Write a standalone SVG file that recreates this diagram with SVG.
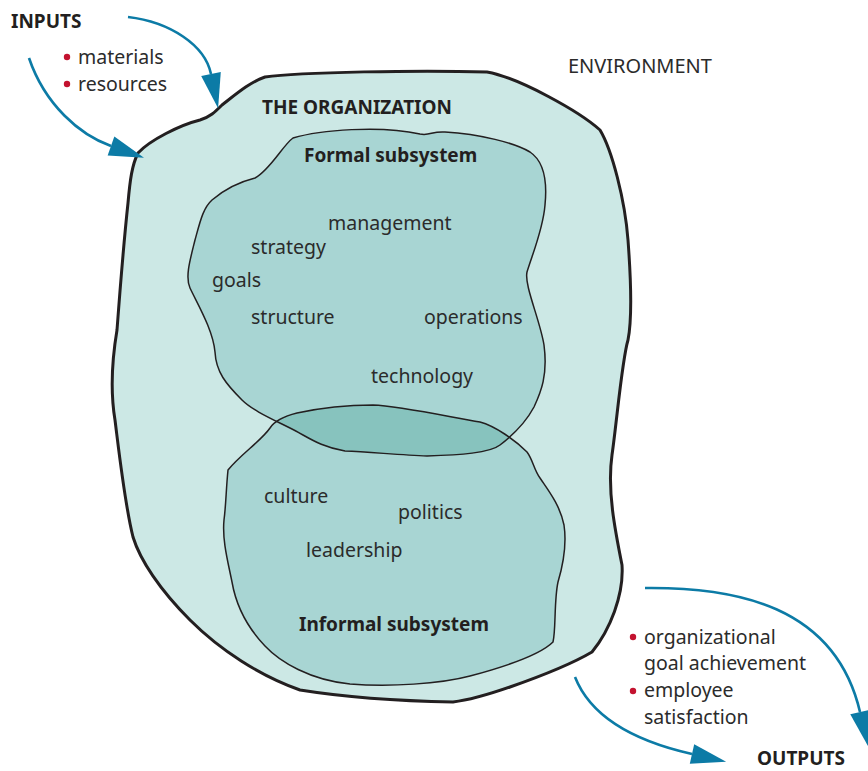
<svg xmlns="http://www.w3.org/2000/svg" xmlns:xlink="http://www.w3.org/1999/xlink" width="868" height="771" viewBox="0 0 868 771">
<style>
.t{font-family:"Noto Sans","Liberation Sans",sans-serif;font-size:19.5px;fill:#2b2b2b}
.b{font-family:"Noto Sans","Liberation Sans",sans-serif;font-size:19px;font-weight:bold;fill:#231f20}
.arr{fill:none;stroke:#0c7ba6;stroke-width:2.6}
.dot{fill:#c3122f}
.line{fill:none;stroke:#231f20;stroke-width:1.5;stroke-linejoin:round}
</style>
<defs>
<marker id="ah" markerUnits="userSpaceOnUse" markerWidth="40" markerHeight="40" refX="0" refY="0" viewBox="-2 -10 32 20" orient="auto">
<path d="M0,-8 L28,0 L0,8 Z" fill="#0c7ba6"/>
</marker>
<path id="formalP" d="M293,138 C320,130 380,125 420,134 C430,136 432,131 445,132 C480,134 515,143 530,152 C545,162 547,185 545,205 C543,230 532,255 527,272 C524,285 540,320 544,345 C548,375 541,392 534,407 C526,422 513,435 500,445 C490,453 460,455 427,456 C400,455 370,452 345,451 C320,447 308,437 290,428 C270,418 252,410 242,400 C226,384 216,372 215,352 C213,330 198,305 190,288 C185,277 190,260 195,240 C200,222 203,208 212,200 C226,188 243,181 255,178 C270,170 283,145 293,138 Z"/>
<path id="informalP" d="M228,470 C240,455 262,440 270,428 C275,420 285,416 297,413 C320,408 350,405 373,405 C400,406 450,417 480,422 C495,426 515,440 527,452 C533,460 534,470 540,478 C548,490 560,505 564,525 C567,545 563,565 558,582 C554,600 556,630 553,642 C540,655 500,668 470,676 C440,684 390,687 350,684 C310,680 280,662 265,646 C245,625 236,605 232,582 C228,562 222,540 224,520 C226,505 226,490 228,470 Z"/>
<clipPath id="clipF"><use xlink:href="#formalP"/></clipPath>
</defs>

<g id="organization">
<path d="M138,153 C150,140 180,125 200,120 C210,117 215,112 222,105 C235,95 250,82 265,77 C300,72 420,70 487,72 C520,78 580,112 600,130 C612,150 625,200 628,240 C631,280 632,320 628,340 C622,360 617,420 612,455 C607,490 615,530 622,565 C624,595 610,630 592,652 C570,665 530,680 510,687 C490,694 470,700 453,702 C400,701 350,698 300,690 C260,676 220,650 190,620 C160,590 140,560 133,537 C125,505 120,460 115,420 C110,390 112,360 117,330 C120,290 124,240 128,203 C130,180 132,165 138,153 Z" fill="#cce8e5" stroke="#231f20" stroke-width="3" stroke-linejoin="round"/>
<text class="b" x="262" y="114">THE ORGANIZATION</text>
</g>

<g id="formal-subsystem">
<use xlink:href="#formalP" fill="#a8d5d3"/>
</g>
<g id="informal-subsystem">
<use xlink:href="#informalP" fill="#a8d5d3"/>
</g>
<g id="overlap">
<use xlink:href="#informalP" fill="#87c3be" clip-path="url(#clipF)"/>
</g>
<g id="outlines">
<use xlink:href="#formalP" class="line"/>
<use xlink:href="#informalP" class="line"/>
</g>

<g id="formal-labels">
<text class="b" x="304" y="162">Formal subsystem</text>
<text class="t" x="328" y="230">management</text>
<text class="t" x="251" y="254">strategy</text>
<text class="t" x="212" y="287">goals</text>
<text class="t" x="251" y="324">structure</text>
<text class="t" x="424" y="324">operations</text>
<text class="t" x="371" y="383">technology</text>
</g>

<g id="informal-labels">
<text class="t" x="264" y="503">culture</text>
<text class="t" x="398" y="519">politics</text>
<text class="t" x="306" y="557">leadership</text>
<text class="b" x="299" y="631">Informal subsystem</text>
</g>

<g id="environment">
<text class="t" x="568" y="73" style="font-size:20px">ENVIRONMENT</text>
</g>

<g id="inputs">
<text class="b" x="11" y="28">INPUTS</text>
<circle class="dot" cx="67" cy="57" r="3.2"/>
<text class="t" x="78" y="64">materials</text>
<circle class="dot" cx="67" cy="84" r="3.2"/>
<text class="t" x="78" y="91">resources</text>
</g>

<g id="outputs">
<text class="b" x="757" y="765">OUTPUTS</text>
<circle class="dot" cx="633" cy="637" r="3.2"/>
<text class="t" x="644" y="644">organizational</text>
<text class="t" x="644" y="670">goal achievement</text>
<circle class="dot" cx="633" cy="691" r="3.2"/>
<text class="t" x="644" y="697">employee</text>
<text class="t" x="644" y="724">satisfaction</text>
</g>

<g id="connectors">
<path class="arr" d="M128,17 C170,22 205,45 211,74" marker-end="url(#ah)"/>
<path class="arr" d="M29,58 C45,105 80,135 111,146" marker-end="url(#ah)"/>
<path class="arr" d="M645,588 C735,587 835,605 860,712" marker-end="url(#ah)"/>
<path class="arr" d="M575,677 C590,715 630,740 692,754" marker-end="url(#ah)"/>
</g>
</svg>
